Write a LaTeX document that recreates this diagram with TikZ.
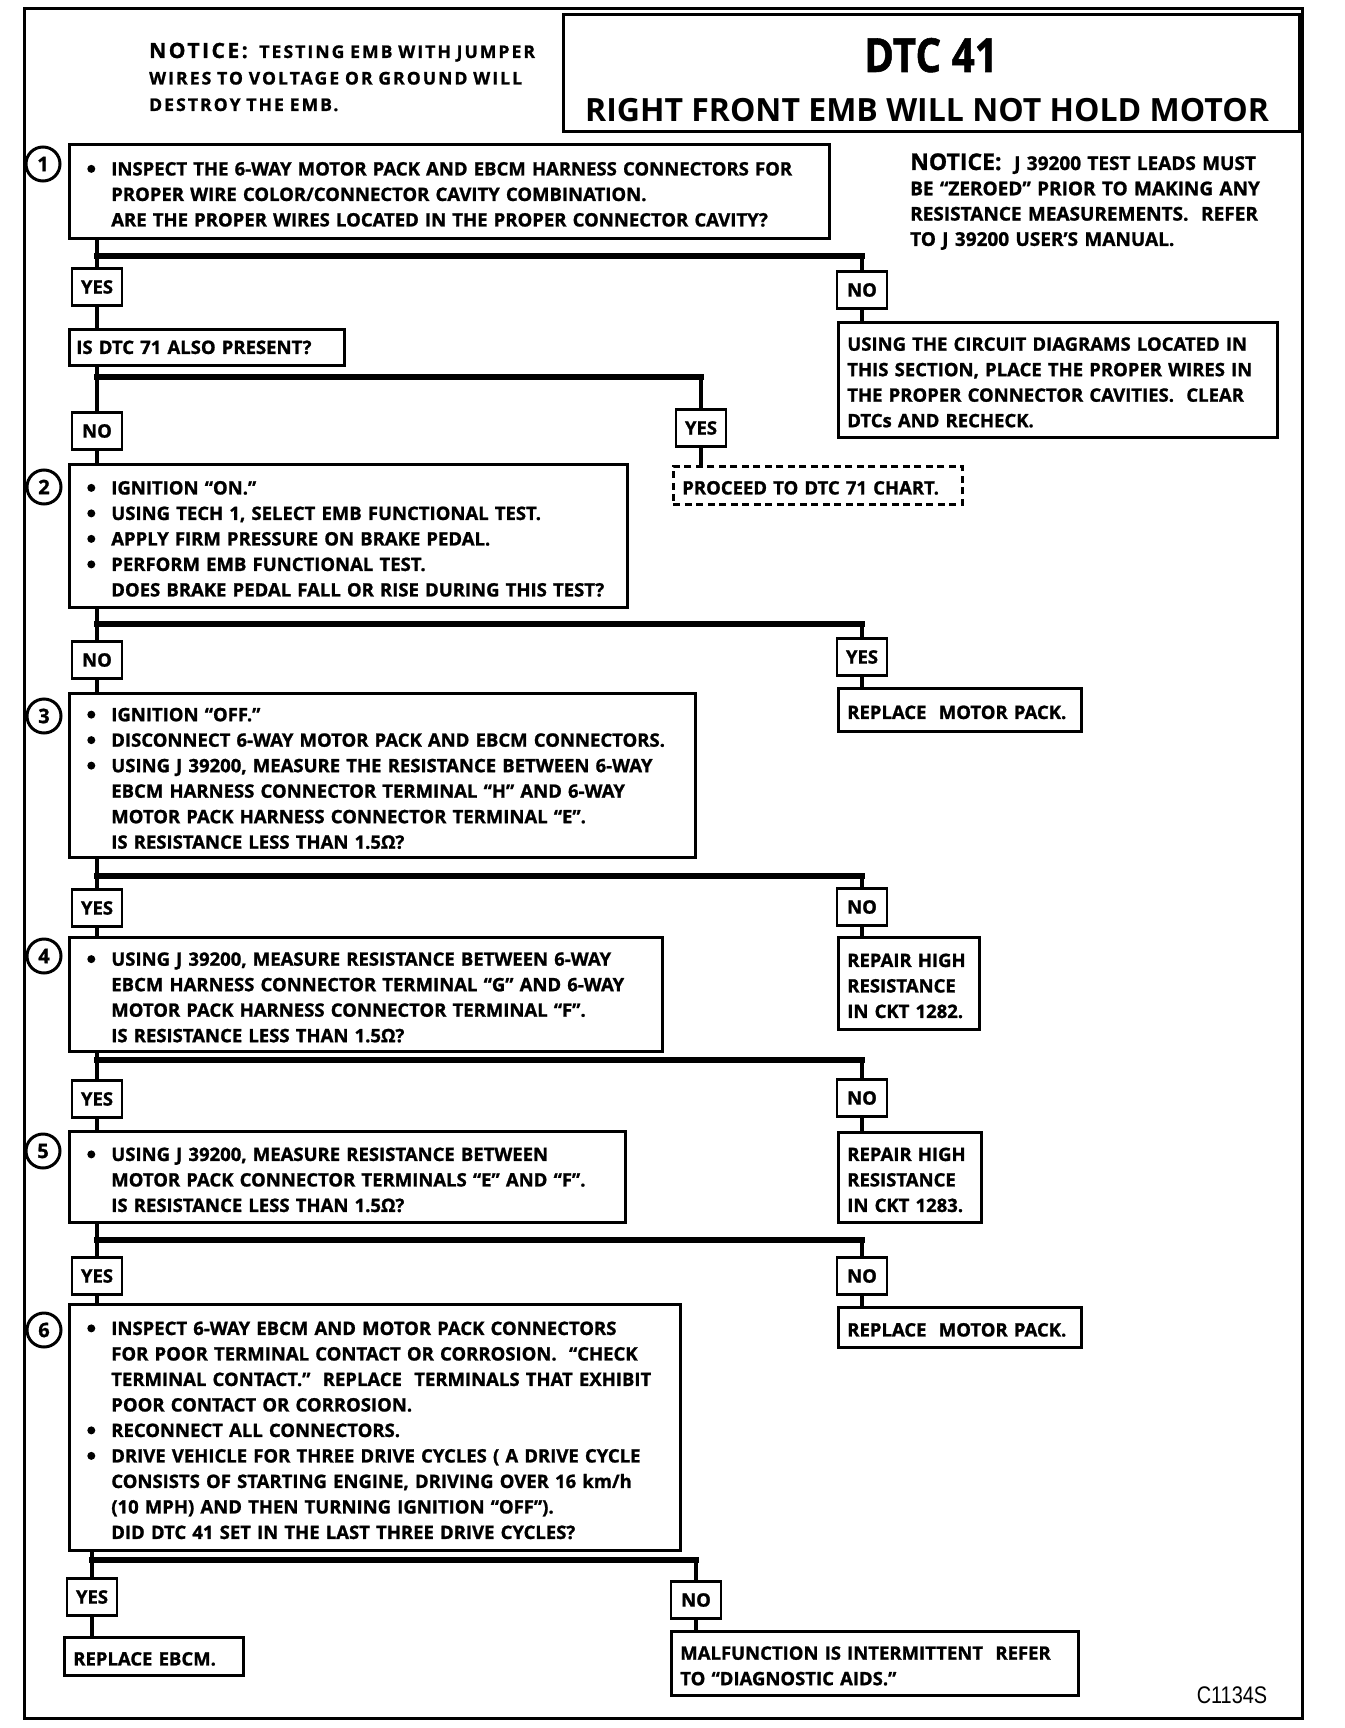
\documentclass[tikz,border=0pt]{standalone}
\usepackage{fontspec}
\usepackage{graphicx}
\setmainfont{Open Sans}[BoldFeatures={FakeBold=1.2}]
\newfontfamily\titlefont{Open Sans}
\newfontfamily\codefont{Liberation Sans}
\newfontfamily\spacedfont{Open Sans}[LetterSpace=12, BoldFeatures={FakeBold=1.2}]
\newcommand\bxf{\bfseries\fontsize{18.5}{25.5}\selectfont}
\newcommand\dgdot{\tikz[baseline=-6.6pt]\fill (0,0) circle[radius=4pt];}
\newcommand\dgbul[1]{\strut\makebox[24pt][l]{\dgdot}\mbox{#1}}
\newcommand\dgcont[1]{\strut\hspace*{24pt}\mbox{#1}}
\newcommand\dgline[1]{\strut\mbox{#1}}
\tikzset{
  frame/.style={draw, line width=2.6pt},
  tbox/.style={frame, rectangle, anchor=north west, inner xsep=18pt, inner ysep=0pt, align=left, font=\bxf, text height=27pt},
  rbox/.style={tbox, inner xsep=9pt, text height=26pt},
  lbl/.style={frame, rectangle, minimum width=50pt, minimum height=37pt, inner sep=3pt, font=\bxf},
  num/.style={draw, line width=3pt, circle, minimum size=34pt, inner sep=0pt, font=\bfseries\fontsize{20}{20}\selectfont},
  conn/.style={line width=4pt},
  bar/.style={line width=6pt, line cap=rect},
}
\begin{document}
\begin{tikzpicture}[x=1pt,y=-1pt]
\fill[white] (0,0) rectangle (1344,1728);
\useasboundingbox (0,0) rectangle (1344,1728);
\draw[line width=3pt] (24,9) rectangle (1302,1718);

% header
\node[frame, anchor=north west, minimum width=736pt, minimum height=117pt, inner sep=0pt] (tb) at (562,13) {};
\node[anchor=base, inner sep=0pt, font=\bfseries\fontsize{47}{47}\selectfont] (t1) at (931,72) {\scalebox{0.86}[1]{DTC 41}};
\node[anchor=base, inner sep=0pt, font=\titlefont\bfseries\fontsize{32}{32}\selectfont] (t2) at (927,122) {RIGHT FRONT EMB WILL NOT HOLD MOTOR};
\node[anchor=base west, inner sep=0pt, text width=440pt, align=left, font=\spacedfont\bfseries\fontsize{17.5}{26.5}\selectfont] (nl) at (149,58)
 {{\fontsize{21}{26.5}\selectfont NOTICE:}\ \ TESTING EMB WITH JUMPER\\ WIRES TO VOLTAGE OR GROUND WILL\\ DESTROY THE EMB.};
\node[anchor=base west, inner sep=0pt, text width=420pt, align=left, font=\bfseries\fontsize{19}{25.3}\selectfont] (nr) at (910,170)
 {{\fontsize{23}{25.3}\selectfont NOTICE:}\ \ J 39200 TEST LEADS MUST\\ BE ``ZEROED'' PRIOR TO MAKING ANY\\ RESISTANCE MEASUREMENTS.\ \ REFER\\ TO J 39200 USER'S MANUAL.};

% main boxes
\node[tbox, text width=724pt, minimum height=94pt] (b1) at (68,143) {%
\dgbul{INSPECT THE 6-WAY MOTOR PACK AND EBCM HARNESS CONNECTORS FOR}\\
\dgcont{PROPER WIRE COLOR/CONNECTOR CAVITY COMBINATION.}\\
\dgcont{ARE THE PROPER WIRES LOCATED IN THE PROPER CONNECTOR CAVITY?}};
\node[rbox, inner xsep=7pt, text width=261pt, minimum height=36pt, text height=21pt] (q1) at (68,328) {\dgline{IS DTC 71 ALSO PRESENT?}};
\node[tbox, text width=522pt, minimum height=143pt] (b2) at (68,463) {%
\dgbul{IGNITION ``ON.''}\\
\dgbul{USING TECH 1, SELECT EMB FUNCTIONAL TEST.}\\
\dgbul{APPLY FIRM PRESSURE ON BRAKE PEDAL.}\\
\dgbul{PERFORM EMB FUNCTIONAL TEST.}\\
\dgcont{DOES BRAKE PEDAL FALL OR RISE DURING THIS TEST?}};
\node[tbox, text width=590pt, minimum height=164pt] (b3) at (68,692) {%
\dgbul{IGNITION ``OFF.''}\\
\dgbul{DISCONNECT 6-WAY MOTOR PACK AND EBCM CONNECTORS.}\\
\dgbul{USING J 39200, MEASURE THE RESISTANCE BETWEEN 6-WAY}\\
\dgcont{EBCM HARNESS CONNECTOR TERMINAL ``H'' AND 6-WAY}\\
\dgcont{MOTOR PACK HARNESS CONNECTOR TERMINAL ``E''.}\\
\dgcont{IS RESISTANCE LESS THAN 1.5Ω?}};
\node[tbox, text width=557pt, minimum height=114pt] (b4) at (68,936) {%
\dgbul{USING J 39200, MEASURE RESISTANCE BETWEEN 6-WAY}\\
\dgcont{EBCM HARNESS CONNECTOR TERMINAL ``G'' AND 6-WAY}\\
\dgcont{MOTOR PACK HARNESS CONNECTOR TERMINAL ``F''.}\\
\dgcont{IS RESISTANCE LESS THAN 1.5Ω?}};
\node[tbox, text width=520pt, minimum height=91pt] (b5) at (68,1130) {%
\dgbul{USING J 39200, MEASURE RESISTANCE BETWEEN}\\
\dgcont{MOTOR PACK CONNECTOR TERMINALS ``E'' AND ``F''.}\\
\dgcont{IS RESISTANCE LESS THAN 1.5Ω?}};
\node[tbox, text width=575pt, minimum height=246pt] (b6) at (68,1303) {%
\dgbul{INSPECT 6-WAY EBCM AND MOTOR PACK CONNECTORS}\\
\dgcont{FOR POOR TERMINAL CONTACT OR CORROSION.\ \ ``CHECK}\\
\dgcont{TERMINAL CONTACT.''\ \ REPLACE\ \ TERMINALS THAT EXHIBIT}\\
\dgcont{POOR CONTACT OR CORROSION.}\\
\dgbul{RECONNECT ALL CONNECTORS.}\\
\dgbul{DRIVE VEHICLE FOR THREE DRIVE CYCLES ( A DRIVE CYCLE}\\
\dgcont{CONSISTS OF STARTING ENGINE, DRIVING OVER 16 km/h}\\
\dgcont{(10 MPH) AND THEN TURNING IGNITION ``OFF'').}\\
\dgcont{DID DTC 41 SET IN THE LAST THREE DRIVE CYCLES?}};

% step numbers
\node[num] (c1) at (43,164) {1};
\node[num] (c2) at (44,487) {2};
\node[num] (c3) at (44,716) {3};
\node[num] (c4) at (44,956) {4};
\node[num] (c5) at (43,1151) {5};
\node[num] (c6) at (44,1330) {6};

% result boxes
\node[rbox, text width=421pt, minimum height=115pt] (k1) at (837,321) {%
\dgline{USING THE CIRCUIT DIAGRAMS LOCATED IN}\\
\dgline{THIS SECTION, PLACE THE PROPER WIRES IN}\\
\dgline{THE PROPER CONNECTOR CAVITIES.\ \ CLEAR}\\
\dgline{DTCs AND RECHECK.}};
\node[rbox, dash pattern=on 7pt off 4.5pt, text width=271pt, minimum height=38pt] (d1) at (672,465) {\dgline{PROCEED TO DTC 71 CHART.}};
\node[rbox, text width=225pt, minimum height=43pt] (k2) at (837,687) {\dgline{REPLACE\ \ MOTOR PACK.}};
\node[rbox, text width=123pt, minimum height=92pt] (k3) at (837,936) {%
\dgline{REPAIR HIGH}\\ \dgline{RESISTANCE}\\ \dgline{IN CKT 1282.}};
\node[rbox, text width=125pt, minimum height=90pt] (k4) at (837,1131) {%
\dgline{REPAIR HIGH}\\ \dgline{RESISTANCE}\\ \dgline{IN CKT 1283.}};
\node[rbox, text width=225pt, minimum height=40pt] (k5) at (837,1306) {\dgline{REPLACE\ \ MOTOR PACK.}};
\node[rbox, text width=161pt, minimum height=38pt] (k6) at (63,1636) {\dgline{REPLACE EBCM.}};
\node[rbox, text width=389pt, minimum height=64pt] (k7) at (670,1630) {%
\dgline{MALFUNCTION IS INTERMITTENT\ \ REFER}\\
\dgline{TO ``DIAGNOSTIC AIDS.''}};

% yes/no labels
\node[lbl] (L1) at (97,287) {YES};
\node[lbl] (R1) at (862,290) {NO};
\node[lbl] (L2) at (97,431) {NO};
\node[lbl] (R2) at (701,428) {YES};
\node[lbl] (L3) at (97,660) {NO};
\node[lbl] (R3) at (862,657) {YES};
\node[lbl] (L4) at (97,908) {YES};
\node[lbl] (R4) at (862,907) {NO};
\node[lbl] (L5) at (97,1099) {YES};
\node[lbl] (R5) at (862,1098) {NO};
\node[lbl] (L6) at (97,1276) {YES};
\node[lbl] (R6) at (862,1276) {NO};
\node[lbl] (L7) at (92,1597) {YES};
\node[lbl] (R7) at (696,1600) {NO};

% connectors
\foreach \up/\L/\R/\h/\Ld/\Rd in {b1/L1/R1/256/q1/k1, q1/L2/R2/377/b2/d1, b2/L3/R3/624/b3/k2,
    b3/L4/R4/876/b4/k3, b4/L5/R5/1060/b5/k4, b5/L6/R6/1240/b6/k5, b6/L7/R7/1560/k6/k7} {
  \draw[conn] (\up.south -| \L) -- (\L.north);
  \draw[bar] (\L |- 0,\h) -- (\R |- 0,\h);
  \draw[conn] (\R |- 0,\h) -- (\R.north);
  \draw[conn] (\L.south) -- (\L.south |- \Ld.north);
  \draw[conn] (\R.south) -- (\R.south |- \Rd.north);
}

\node[anchor=base, inner sep=0pt, font=\codefont\fontsize{24}{24}\selectfont] (code) at (1232,1703) {\scalebox{0.83}[1]{C1134S}};
\end{tikzpicture}
\end{document}
